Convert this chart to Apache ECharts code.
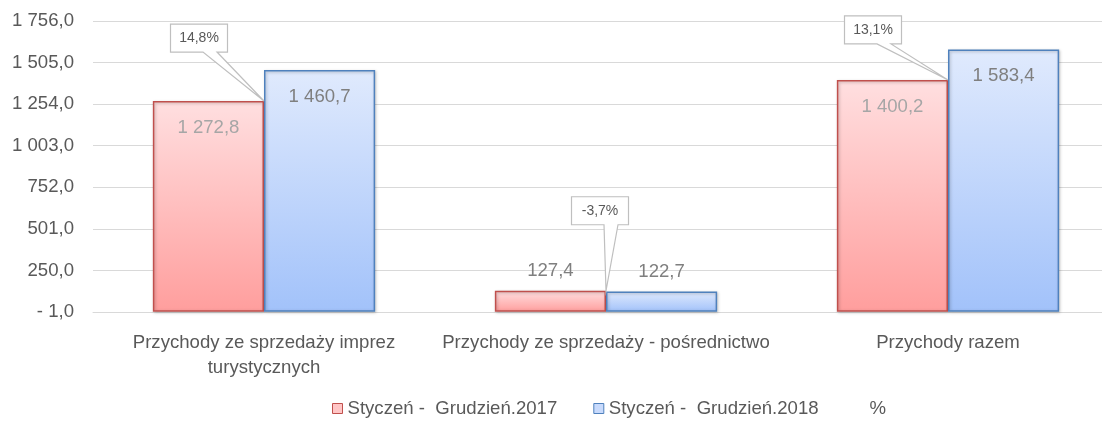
<!DOCTYPE html>
<html>
<head>
<meta charset="utf-8">
<script src="https://cdn.jsdelivr.net/npm/echarts@6/dist/echarts.min.js"></script>
<style>
html,body{margin:0;padding:0;background:#fff;}
#chart{width:1102px;height:426px;}
</style>
</head>
<body>
<div id="chart"></div>
<script>
const categories = ['Przychody ze sprzedaży imprez\nturystycznych', 'Przychody ze sprzedaży - pośrednictwo', 'Przychody razem'];
const seriesNames = ['Styczeń -  Grudzień.2017', 'Styczeń -  Grudzień.2018', '%'];
const values2017 = [1272.8, 127.4, 1400.2];
const values2018 = [1460.7, 122.7, 1583.4];
const changePct = [14.8, -3.7, 13.1];
const yMin = -1.0, yMax = 1756.0, yStep = 251;

// callout box offsets relative to the top of the 2017 bar at the category centre (layout only)
const calloutOffsets = [[-65, -63], [-6, -80], [-75, -50]];

const FONT = "'Liberation Sans', Arial, sans-serif";
const FS = 18.6;

function fmt(v) {
  const neg = v < 0;
  const a = Math.abs(v).toFixed(1);
  let [ip, dp] = a.split('.');
  ip = ip.replace(/\B(?=(\d{3})+(?!\d))/g, ' ');
  return (neg ? '- ' : '') + ip + ',' + dp;
}

function barData(vals, insideColor) {
  return vals.map(v => ({
    value: v,
    label: v > 500
      ? { position: 'insideTop', distance: 17, color: insideColor }
      : { position: 'top', distance: 10, color: '#7f7f7f' }
  }));
}

const chart = echarts.init(document.getElementById('chart'), null, { renderer: 'canvas' });

const option = {
  animation: false,
  textStyle: { fontFamily: FONT },
  grid: { left: 93, top: 21, bottom: 114, width: 1026, containLabel: false, outerBoundsMode: 'none' },
  legend: {
    left: 327, top: 394, padding: 5,
    itemWidth: 10, itemHeight: 10, itemGap: 36,
    textStyle: { fontFamily: FONT, fontSize: FS, color: '#595959' },
    data: [
      { name: seriesNames[0], icon: 'rect', itemStyle: { color: '#ffc6c6', borderColor: '#c0504d', borderWidth: 1 } },
      { name: seriesNames[1], icon: 'rect', itemStyle: { color: '#c8dafc', borderColor: '#4f81bd', borderWidth: 1 } },
      { name: seriesNames[2], icon: 'rect', itemStyle: { color: 'rgba(0,0,0,0)', borderColor: 'rgba(0,0,0,0)', borderWidth: 0 } }
    ],
    selectedMode: false
  },
  xAxis: {
    type: 'category',
    data: categories,
    axisLine: { lineStyle: { color: '#d9d9d9', width: 1 } },
    axisTick: { show: false },
    axisLabel: { color: '#595959', fontSize: FS, fontFamily: FONT, margin: 18, lineHeight: 25, interval: 0 }
  },
  yAxis: {
    type: 'value',
    min: yMin, max: yMax, interval: yStep,
    axisLine: { show: false },
    axisTick: { show: false },
    splitLine: { lineStyle: { color: '#d9d9d9', width: 1 } },
    axisLabel: { color: '#595959', fontSize: FS, fontFamily: FONT, margin: 19, formatter: v => fmt(v) }
  },
  series: [
    {
      name: seriesNames[0], type: 'bar', barWidth: '32.5%', barGap: '0%',
      data: barData(values2017, '#a6a6a6'),
      itemStyle: {
        color: new echarts.graphic.LinearGradient(0, 0, 0, 1, [
          { offset: 0, color: '#ffdfe0' }, { offset: 1, color: '#ff9e9d' }
        ]),
        borderColor: '#c0504d', borderWidth: 1.5,
        shadowColor: 'rgba(0,0,0,0.25)', shadowBlur: 3, shadowOffsetX: 1, shadowOffsetY: 1
      },
      label: { show: true, fontSize: FS, fontFamily: FONT, formatter: p => fmt(p.value) },
      z: 2
    },
    {
      name: seriesNames[1], type: 'bar', barWidth: '32.5%', barGap: '0%',
      data: barData(values2018, '#7f7f7f'),
      itemStyle: {
        color: new echarts.graphic.LinearGradient(0, 0, 0, 1, [
          { offset: 0, color: '#e0eafd' }, { offset: 1, color: '#a2c2fa' }
        ]),
        borderColor: '#4f81bd', borderWidth: 1.5,
        shadowColor: 'rgba(0,0,0,0.25)', shadowBlur: 3, shadowOffsetX: 1, shadowOffsetY: 1
      },
      label: { show: true, fontSize: FS, fontFamily: FONT, formatter: p => fmt(p.value) },
      z: 2
    },
    {
      name: seriesNames[2], type: 'custom', silent: true, z: 10,
      data: categories.map((c, i) => [i, values2017[i], changePct[i]]),
      encode: { x: 0, y: 1 },
      renderItem: function (params, api) {
        const i = api.value(0);
        const anchor = api.coord([i, api.value(1)]);
        const pct = api.value(2);
        const off = calloutOffsets[i];
        const cx = anchor[0] + off[0], cy = anchor[1] + off[1];
        const w = 57, h = 28;
        const L = cx - w / 2, R = cx + w / 2, T = cy - h / 2, B = cy + h / 2;
        const pts = [[L, T], [R, T], [R, B], [cx + 18, B], [anchor[0], anchor[1]], [cx + 4, B], [L, B]];
        return {
          type: 'group',
          children: [
            { type: 'polygon', shape: { points: pts }, style: { fill: '#ffffff', stroke: '#bfbfbf', lineWidth: 1.2 } },
            { type: 'text', x: cx, y: cy, style: {
                text: pct.toFixed(1).replace('.', ',') + '%', align: 'center', verticalAlign: 'middle',
                fontSize: 14, fontFamily: FONT, fill: '#595959' } }
          ]
        };
      }
    }
  ]
};
chart.setOption(option);
</script>
</body>
</html>
